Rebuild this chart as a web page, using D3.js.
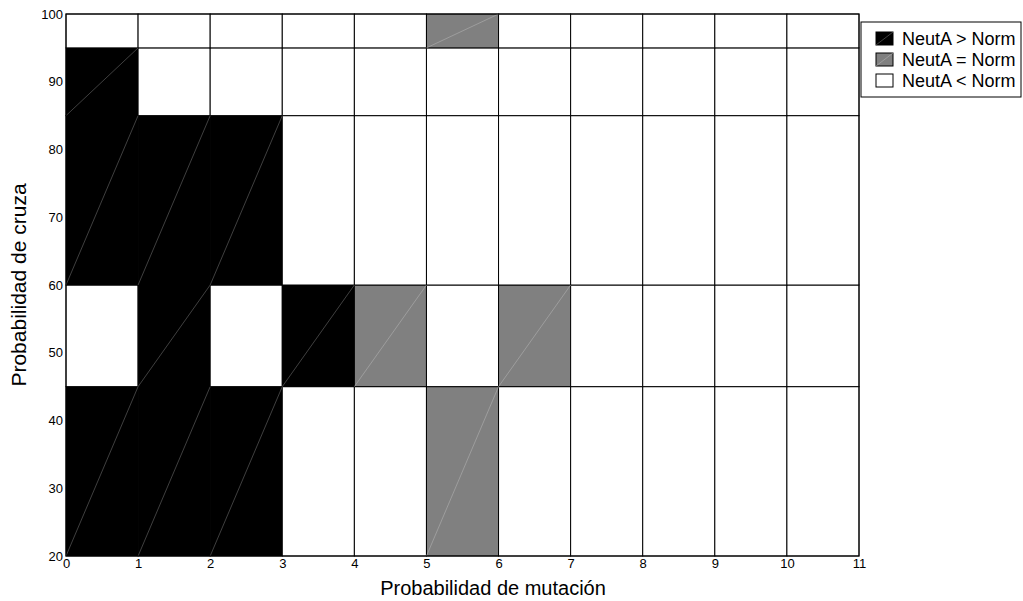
<!DOCTYPE html>
<html lang="es">
<head>
	<meta charset="UTF-8">
	<title>Mapa NeutA vs Norm</title>
	<script src="https://cdn.jsdelivr.net/npm/d3@7"></script>
	<style>
		body { margin: 0; background: #fff; }
		text { font-family: "Liberation Sans", Arial, sans-serif; }
	</style>
</head>
<body>
<script type="text/javascript">

	// column edges (probabilidad de mutacion) and row edges (probabilidad de cruza)
	var xEdges = [0, 1, 2, 3, 4, 5, 6, 7, 8, 9, 10, 11];
	var yEdges = [20, 45, 60, 85, 95, 100];

	// 1 = NeutA > Norm, 0 = NeutA = Norm, -1 = NeutA < Norm ; rows bottom to top
	var row20 = [1, 1, 1, -1, -1, 0, -1, -1, -1, -1, -1];
	var row45 = [-1, 1, -1, 1, 0, -1, 0, -1, -1, -1, -1];
	var row60 = [1, 1, 1, -1, -1, -1, -1, -1, -1, -1, -1];
	var row85 = [1, -1, -1, -1, -1, -1, -1, -1, -1, -1, -1];
	var row95 = [-1, -1, -1, -1, -1, 0, -1, -1, -1, -1, -1];
	var rows = [row20, row45, row60, row85, row95];

	var xTicks = [0, 1, 2, 3, 4, 5, 6, 7, 8, 9, 10, 11];
	var yTicks = [20, 30, 40, 50, 60, 70, 80, 90, 100];

	var legendKeys = [1, 0, -1];
	var legendLabels = ['NeutA > Norm', 'NeutA = Norm', 'NeutA < Norm'];

	var fillOf = {'1': '#000000', '0': '#808080', '-1': '#ffffff'};
	var diagOf = {'1': '#6a6a6a', '0': '#b0b0b0', '-1': '#ffffff'};

	var margin = {top: 14, left: 66, right: 164, bottom: 45};
	var W = 1023, H = 601;
	var width = W - margin.left - margin.right,
		height = H - margin.top - margin.bottom;

	var svg = d3.select('body').append('svg')
		.attr('width', W)
		.attr('height', H);

	var g = svg.append('g')
		.attr('transform', 'translate(' + margin.left + ',' + margin.top + ')');

	var x = d3.scaleLinear().domain([0, 11]).range([0, width]);
	var y = d3.scaleLinear().domain([20, 100]).range([height, 0]);

	var cells = [];
	rows.forEach(function (r, i) {
		r.forEach(function (v, j) {
			cells.push({x0: xEdges[j], x1: xEdges[j + 1], y0: yEdges[i], y1: yEdges[i + 1], v: v});
		});
	});

	g.selectAll('.cell')
		.data(cells)
		.enter().append('rect')
		.attr('class', 'cell')
		.attr('x', function (d) { return x(d.x0); })
		.attr('y', function (d) { return y(d.y1); })
		.attr('width', function (d) { return x(d.x1) - x(d.x0); })
		.attr('height', function (d) { return y(d.y0) - y(d.y1); })
		.attr('fill', function (d) { return fillOf[d.v]; })
		.attr('stroke', '#000')
		.attr('stroke-width', 1);

	// faint triangulation diagonals
	g.selectAll('.diag')
		.data(cells.filter(function (d) { return d.v !== -1; }))
		.enter().append('line')
		.attr('class', 'diag')
		.attr('x1', function (d) { return x(d.x0); })
		.attr('y1', function (d) { return y(d.y0); })
		.attr('x2', function (d) { return x(d.x1); })
		.attr('y2', function (d) { return y(d.y1); })
		.attr('stroke', function (d) { return diagOf[d.v]; })
		.attr('stroke-width', 0.6);

	// axis box
	g.append('rect')
		.attr('width', width)
		.attr('height', height)
		.attr('fill', 'none')
		.attr('stroke', '#000')
		.attr('stroke-width', 1);

	var xAxis = g.append('g')
		.attr('transform', 'translate(0,' + height + ')')
		.call(d3.axisBottom(x).tickValues(xTicks).tickSize(0).tickPadding(3).tickFormat(d3.format('d')));
	xAxis.select('.domain').remove();
	xAxis.selectAll('text').attr('font-size', 13).attr('fill', '#000');

	var yAxis = g.append('g')
		.call(d3.axisLeft(y).tickValues(yTicks).tickSize(0).tickPadding(3).tickFormat(d3.format('d')));
	yAxis.select('.domain').remove();
	yAxis.selectAll('text').attr('font-size', 13).attr('fill', '#000');

	svg.append('text')
		.attr('x', 493)
		.attr('y', 595)
		.attr('text-anchor', 'middle')
		.attr('font-size', 20)
		.text('Probabilidad de mutación');

	svg.append('text')
		.attr('transform', 'translate(26,285) rotate(-90)')
		.attr('text-anchor', 'middle')
		.attr('font-size', 21)
		.text('Probabilidad de cruza');

	// legend
	var lg = svg.append('g').attr('transform', 'translate(861,22)');
	lg.append('rect')
		.attr('width', 160)
		.attr('height', 75)
		.attr('fill', '#fff')
		.attr('stroke', '#000');

	var items = lg.selectAll('.item')
		.data(legendKeys)
		.enter().append('g')
		.attr('class', 'item')
		.attr('transform', function (d, i) { return 'translate(15,' + (10 + i * 21) + ')'; });

	items.append('rect')
		.attr('width', 17)
		.attr('height', 13)
		.attr('fill', function (d) { return fillOf[d]; })
		.attr('stroke', '#000');
	items.filter(function (d) { return d !== -1; }).append('line')
		.attr('x1', 0).attr('y1', 13).attr('x2', 17).attr('y2', 0)
		.attr('stroke', function (d) { return diagOf[d]; })
		.attr('stroke-width', 0.6);
	items.append('text')
		.attr('x', 26)
		.attr('y', 13)
		.attr('font-size', 18)
		.text(function (d, i) { return legendLabels[i]; });

</script>
</body>
</html>
